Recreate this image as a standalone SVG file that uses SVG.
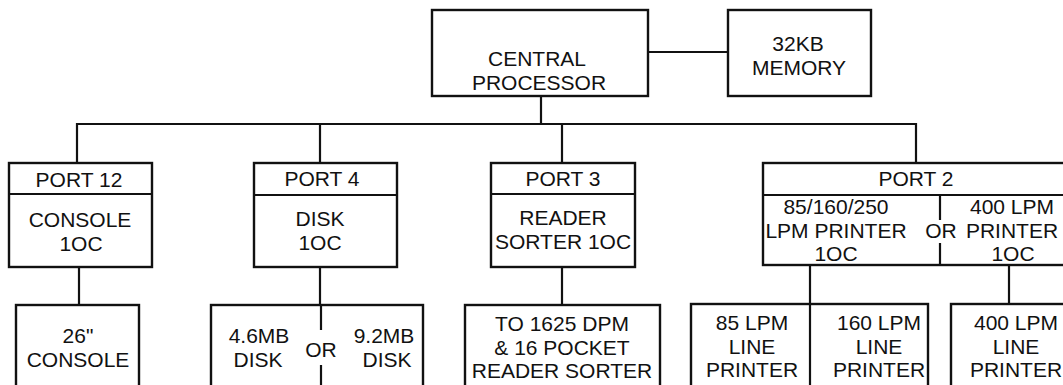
<svg xmlns="http://www.w3.org/2000/svg" width="1063" height="385" viewBox="0 0 1063 385">
<style>
  .box { fill: #fff; stroke: #111; stroke-width: 2.4; }
  .ln { fill: none; stroke: #111; stroke-width: 2.2; }
  text { font-family: "Liberation Sans", Arial, sans-serif; font-size: 21px; fill: #111; text-anchor: middle; }
</style>
<rect width="1063" height="385" fill="#fff"/>
<g id="connectors">
  <line class="ln" x1="648" y1="52" x2="728" y2="52"/>
  <line class="ln" x1="541" y1="96" x2="541" y2="124"/>
  <line class="ln" x1="77" y1="124" x2="917" y2="124"/>
  <line class="ln" x1="77" y1="123" x2="77" y2="163"/>
  <line class="ln" x1="320" y1="124" x2="320" y2="163"/>
  <line class="ln" x1="562" y1="124" x2="562" y2="163"/>
  <line class="ln" x1="916" y1="123" x2="916" y2="163"/>
  <line class="ln" x1="79" y1="267" x2="79" y2="305"/>
  <line class="ln" x1="320" y1="267" x2="320" y2="305"/>
  <line class="ln" x1="562" y1="267" x2="562" y2="305"/>
  <line class="ln" x1="810" y1="265" x2="810" y2="304"/>
  <line class="ln" x1="1009" y1="265" x2="1009" y2="304"/>
</g>
<g id="cpu">
  <rect class="box" x="432" y="10" width="216" height="86"/>
  <text x="537" y="66">CENTRAL</text>
  <text x="539" y="90">PROCESSOR</text>
</g>
<g id="memory">
  <rect class="box" x="728" y="10" width="143" height="86"/>
  <text x="798" y="51">32KB</text>
  <text x="799" y="75">MEMORY</text>
</g>
<g id="port12">
  <rect class="box" x="9" y="163" width="143" height="104"/>
  <line class="ln" x1="9" y1="194" x2="152" y2="194"/>
  <text x="79" y="187">PORT 12</text>
  <text x="80" y="227">CONSOLE</text>
  <text x="81" y="251">1OC</text>
</g>
<g id="port4">
  <rect class="box" x="254" y="163" width="143" height="104"/>
  <line class="ln" x1="254" y1="195" x2="397" y2="195"/>
  <text x="322" y="186">PORT 4</text>
  <text x="320" y="226">DISK</text>
  <text x="320" y="250">1OC</text>
</g>
<g id="port3">
  <rect class="box" x="491" y="163" width="144" height="104"/>
  <line class="ln" x1="491" y1="194" x2="635" y2="194"/>
  <text x="563" y="186">PORT 3</text>
  <text x="563" y="225">READER</text>
  <text x="563" y="249">SORTER 1OC</text>
</g>
<g id="port2">
  <rect class="box" x="763" y="163" width="320" height="102"/>
  <line class="ln" x1="763" y1="195" x2="1070" y2="195"/>
  <line class="ln" x1="940" y1="195" x2="940" y2="220"/>
  <line class="ln" x1="940" y1="243" x2="940" y2="265"/>
  <text x="916" y="186">PORT 2</text>
  <text x="836" y="214">85/160/250</text>
  <text x="836" y="237.5">LPM PRINTER</text>
  <text x="836" y="261">1OC</text>
  <text x="941" y="238">OR</text>
  <text x="1012" y="214">400 LPM</text>
  <text x="1012" y="237.5">PRINTER</text>
  <text x="1013" y="261">1OC</text>
</g>
<g id="console">
  <rect class="box" x="16" y="305" width="123" height="100"/>
  <text x="78" y="343">26"</text>
  <text x="78" y="367">CONSOLE</text>
</g>
<g id="disks">
  <rect class="box" x="211" y="305" width="212" height="100"/>
  <line class="ln" x1="321" y1="305" x2="321" y2="330"/>
  <line class="ln" x1="321" y1="365" x2="321" y2="390"/>
  <text x="259" y="343">4.6MB</text>
  <text x="258" y="367">DISK</text>
  <text x="321" y="357">OR</text>
  <text x="384" y="343">9.2MB</text>
  <text x="387" y="367">DISK</text>
</g>
<g id="reader-sorter">
  <rect class="box" x="465" y="305" width="195" height="100"/>
  <text x="562" y="331">TO 1625 DPM</text>
  <text x="562" y="354.5">&amp; 16 POCKET</text>
  <text x="562" y="378">READER SORTER</text>
</g>
<g id="line-printers">
  <rect class="box" x="691" y="304" width="237" height="100"/>
  <line class="ln" x1="810" y1="304" x2="810" y2="390"/>
  <text x="752" y="330">85 LPM</text>
  <text x="752" y="353.5">LINE</text>
  <text x="752" y="377">PRINTER</text>
  <text x="879" y="330">160 LPM</text>
  <text x="879" y="353.5">LINE</text>
  <text x="879" y="377">PRINTER</text>
</g>
<g id="printer-400">
  <rect class="box" x="951" y="304" width="130" height="100"/>
  <text x="1016" y="330">400 LPM</text>
  <text x="1016" y="353.5">LINE</text>
  <text x="1016" y="377">PRINTER</text>
</g>
</svg>
